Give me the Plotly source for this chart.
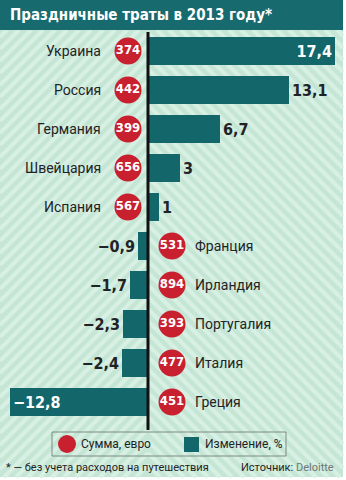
import plotly.graph_objects as go

# Holiday spending by country, 2013
countries = ["Украина", "Россия", "Германия", "Швейцария", "Испания",
             "Франция", "Ирландия", "Португалия", "Италия", "Греция"]
change_pct = [17.4, 13.1, 6.7, 3, 1, -0.9, -1.7, -2.3, -2.4, -12.8]
amount_eur = [374, 442, 399, 656, 567, 531, 894, 393, 477, 451]

W, H = 346, 480
TEAL = "#13676a"
RED = "#c8202f"
BG = "#c5e6d5"
STRIPE = "#d7f0e3"
DARK = "#1f2326"
NUM_FONT = "DejaVu Sans Condensed"
TXT_FONT = "Roboto"

# pixel geometry of the value axis and rows
ZERO_PX, PX_PER_UNIT = 148, 10.75
ROW0_PX, ROW_STEP = 51, 39.0


def px(x):
    return x / W


def py(y):
    return 1 - y / H


def fmt(v):
    s = f"{abs(v):.1f}".rstrip("0").rstrip(".").replace(".", ",")
    return ("−" + s) if v < 0 else s


def seg_clip(xa, ya, xb, yb, xmin, xmax, ymin, ymax):
    # Liang-Barsky clipping of a segment to a box
    dx, dy = xb - xa, yb - ya
    t0, t1 = 0.0, 1.0
    for p, q in ((-dx, xa - xmin), (dx, xmax - xa), (-dy, ya - ymin), (dy, ymax - ya)):
        if p == 0:
            if q < 0:
                return None
        else:
            r = q / p
            if p < 0:
                t0 = max(t0, r)
            else:
                t1 = min(t1, r)
    if t0 > t1:
        return None
    return xa + t0 * dx, ya + t0 * dy, xa + t1 * dx, ya + t1 * dy


rows = list(range(len(countries)))
fig = go.Figure()

text_pos = ["inside" if (v > 15 or v < -10) else "outside" for v in change_pct]

fig.add_trace(go.Bar(
    y=rows, x=change_pct, orientation="h", width=0.72,
    marker=dict(color=TEAL, line=dict(width=0)),
    text=[fmt(v) for v in change_pct],
    textposition=text_pos, insidetextanchor="end",
    insidetextfont=dict(family=NUM_FONT, size=16, color="white", weight="bold"),
    outsidetextfont=dict(family=NUM_FONT, size=16, color=DARK, weight="bold"),
    textfont=dict(family=NUM_FONT, size=16, weight="bold"),
    cliponaxis=False, showlegend=False, hoverinfo="skip",
))

# badge position: left of the axis for growth, right of it for decline
badge_x = [(-20 / PX_PER_UNIT) if v >= 0 else (24 / PX_PER_UNIT) for v in change_pct]
fig.add_trace(go.Scatter(
    y=rows, x=badge_x, mode="markers+text",
    marker=dict(size=27, color=RED, line=dict(width=0)),
    text=[str(a) for a in amount_eur], textposition="middle center",
    textfont=dict(family=NUM_FONT, size=13, color="white", weight="bold"),
    cliponaxis=False, showlegend=False, hoverinfo="skip",
))

annotations = []
for i, (c, v) in enumerate(zip(countries, change_pct)):
    if v >= 0:
        annotations.append(dict(x=-45 / PX_PER_UNIT, y=i, xref="x", yref="y", text=c,
                                showarrow=False, xanchor="right",
                                font=dict(family=TXT_FONT, size=14, color=DARK)))
    else:
        annotations.append(dict(x=45 / PX_PER_UNIT, y=i, xref="x", yref="y", text=c,
                                showarrow=False, xanchor="left",
                                font=dict(family=TXT_FONT, size=14, color=DARK)))

shapes = []
# background panel (white edge remains on the right and bottom)
shapes.append(dict(type="rect", xref="paper", yref="paper", x0=px(0), x1=px(343),
                   y0=py(477), y1=py(0), fillcolor=BG, line=dict(width=0), layer="below"))
# diagonal stripes forming a chevron at the axis
step = 12
for k in range(-80, 80):
    c = ZERO_PX + k * step
    s = seg_clip(c - 480, 477, c, -3, 0, ZERO_PX, 30, 477)
    if s:
        shapes.append(dict(type="line", xref="paper", yref="paper",
                           x0=px(s[0]), y0=py(s[1]), x1=px(s[2]), y1=py(s[3]),
                           line=dict(color=STRIPE, width=4), layer="below"))
    s = seg_clip(c, -3, c + 480, 477, ZERO_PX, 343, 30, 477)
    if s:
        shapes.append(dict(type="line", xref="paper", yref="paper",
                           x0=px(s[0]), y0=py(s[1]), x1=px(s[2]), y1=py(s[3]),
                           line=dict(color=STRIPE, width=4), layer="below"))

# title bar
shapes.append(dict(type="rect", xref="paper", yref="paper", x0=px(0), x1=px(343),
                   y0=py(30), y1=py(0), fillcolor="#176a6d", line=dict(width=0), layer="above"))
# zero axis line
shapes.append(dict(type="line", xref="x", yref="paper", x0=0, x1=0,
                   y0=py(32), y1=py(430), line=dict(color="#111", width=3), layer="above"))
# legend box
shapes.append(dict(type="rect", xref="paper", yref="paper", x0=px(52), x1=px(286),
                   y0=py(456), y1=py(432), line=dict(color="#7d8a84", width=1),
                   fillcolor="rgba(0,0,0,0)", layer="above"))
shapes.append(dict(type="circle", xref="paper", yref="paper", x0=px(58), x1=px(76),
                   y0=py(453), y1=py(435), fillcolor=RED, line=dict(width=0), layer="above"))
shapes.append(dict(type="rect", xref="paper", yref="paper", x0=px(184), x1=px(199),
                   y0=py(452), y1=py(437), fillcolor=TEAL, line=dict(width=0), layer="above"))

annotations += [
    dict(x=px(8), y=py(15), xref="paper", yref="paper", xanchor="left", yanchor="middle",
         text="<b>Праздничные траты в 2013 году*</b>", showarrow=False,
         font=dict(family=NUM_FONT, size=15, color="white")),
    dict(x=px(79), y=py(444), xref="paper", yref="paper", xanchor="left", yanchor="middle",
         text="Сумма, евро", showarrow=False,
         font=dict(family=TXT_FONT, size=12, color=DARK)),
    dict(x=px(203), y=py(444), xref="paper", yref="paper", xanchor="left", yanchor="middle",
         text="Изменение, %", showarrow=False,
         font=dict(family=TXT_FONT, size=12, color=DARK)),
    dict(x=px(4), y=py(467), xref="paper", yref="paper", xanchor="left", yanchor="middle",
         text="* — без учета расходов на путешествия", showarrow=False,
         font=dict(family=TXT_FONT, size=11, color=DARK)),
    dict(x=px(336), y=py(467), xref="paper", yref="paper", xanchor="right", yanchor="middle",
         text="Источник: <span style='color:#6f7775'>Deloitte</span>", showarrow=False,
         font=dict(family=TXT_FONT, size=11, color=DARK)),
]

fig.update_layout(
    width=W, height=H,
    margin=dict(l=0, r=0, t=0, b=0, pad=0),
    paper_bgcolor="white", plot_bgcolor="rgba(0,0,0,0)",
    shapes=shapes, annotations=annotations,
    xaxis=dict(range=[-ZERO_PX / PX_PER_UNIT, (W - ZERO_PX) / PX_PER_UNIT],
               domain=[0, 1], visible=False, fixedrange=True),
    yaxis=dict(range=[(H - ROW0_PX) / ROW_STEP, -ROW0_PX / ROW_STEP],
               domain=[0, 1], visible=False, fixedrange=True),
    bargap=0,
)

fig.write_html("out.html")
